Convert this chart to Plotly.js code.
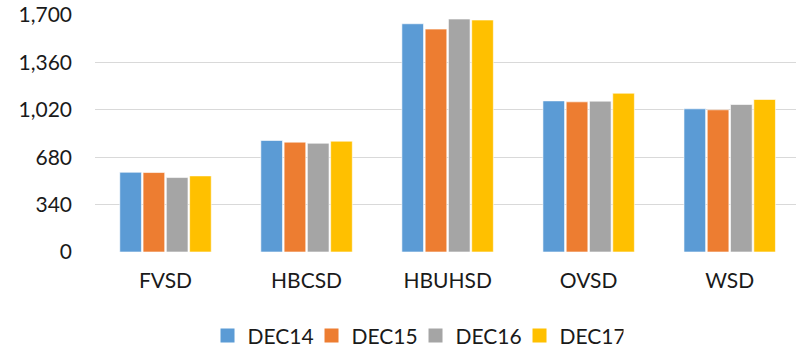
<!DOCTYPE html>
<html>
<head>
<meta charset="utf-8">
<script src="https://cdn.plot.ly/plotly-3.0.1.min.js"></script>
<style>html,body{margin:0;padding:0;background:#fff;}#chart{width:796px;height:351px;}</style>
</head>
<body>
<div id="chart"></div>
<script>
const categories = ["FVSD", "HBCSD", "HBUHSD", "OVSD", "WSD"];
const seriesNames = ["DEC14", "DEC15", "DEC16", "DEC17"];
const dec14 = [572, 800, 1637, 1084, 1027];
const dec15 = [570, 788, 1599, 1077, 1020];
const dec16 = [534, 780, 1671, 1082, 1058];
const dec17 = [546, 795, 1664, 1139, 1094];
const tickValues = [0, 340, 680, 1020, 1360, 1700];
const tickLabels = ["0", "340", "680", "1,020", "1,360", "1,700"];
const colors = ["#5B9BD5", "#ED7D31", "#A5A5A5", "#FFC000"];

const allSeries = [dec14, dec15, dec16, dec17];
const traces = allSeries.map((vals, i) => ({
  type: "bar",
  name: seriesNames[i],
  x: categories,
  y: vals,
  marker: { color: colors[i], line: { color: "#ffffff", width: 0.6 } },
  showlegend: false,
  legendgroup: seriesNames[i],
  hoverinfo: "x+y+name"
}));
// legend-only entries with larger square swatches
seriesNames.forEach((n, i) => {
  traces.push({
    type: "scatter",
    mode: "markers",
    name: n,
    x: [null],
    y: [null],
    legendgroup: n,
    marker: { symbol: "square", size: 14, color: colors[i] },
    showlegend: true
  });
});

const fontFam = "Lato, 'Open Sans', sans-serif";
const layout = {
  width: 796,
  height: 351,
  margin: { l: 95, r: 0, t: 15, b: 99 },
  paper_bgcolor: "#ffffff",
  plot_bgcolor: "#ffffff",
  barmode: "group",
  bargap: 0.34,
  bargroupgap: 0.07,
  font: { family: fontFam, size: 21, color: "#1a1a1a" },
  xaxis: {
    type: "category",
    range: [-0.5, 4.47],
    showgrid: false,
    zeroline: false,
    showline: false,
    ticks: "",
    ticklabelstandoff: 14,
    tickfont: { family: fontFam, size: 21, color: "#1a1a1a" }
  },
  yaxis: {
    range: [0, 1700],
    tickvals: tickValues,
    ticktext: tickLabels,
    showgrid: true,
    gridcolor: "#d9d9d9",
    gridwidth: 1.3,
    zeroline: false,
    showline: false,
    ticks: "",
    ticklabelstandoff: 22,
    tickfont: { family: fontFam, size: 21, color: "#1a1a1a" }
  },
  showlegend: true,
  legend: {
    orientation: "h",
    xref: "container",
    yref: "container",
    x: 0.522,
    xanchor: "center",
    y: 0.043,
    yanchor: "middle",
    font: { family: fontFam, size: 21, color: "#1a1a1a" },
    itemwidth: 30,
    entrywidth: 59,
    entrywidthmode: "pixels",
    traceorder: "normal"
  }
};

Plotly.newPlot("chart", traces, layout, { displayModeBar: false, staticPlot: true });
</script>
</body>
</html>
